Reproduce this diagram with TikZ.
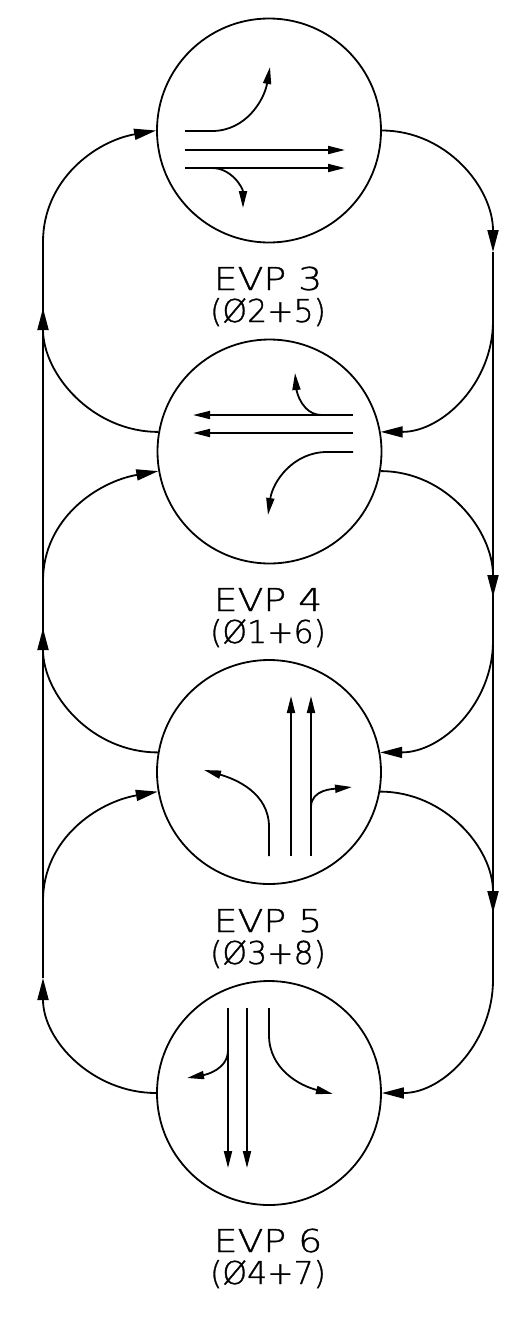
\documentclass[tikz,border=0pt]{standalone}
\usepackage{fontspec}
\newfontfamily\cadfont{DejaVu Sans ExtraLight}[FakeBold=1]
\usetikzlibrary{arrows.meta}
\tikzset{
  ring/.style={circle, draw, line width=1.8pt, minimum size=224pt, inner sep=0pt},
  conn/.style={line width=1.8pt, -{Triangle[length=22pt,width=11pt]}},
  plainline/.style={line width=1.8pt},
  lane/.style={line width=1.8pt, -{Triangle[length=17pt,width=8pt]}},
  lab/.style={font=\cadfont\fontsize{31.5}{31.5}\selectfont, inner sep=0pt, anchor=base},
}
\begin{document}
\begin{tikzpicture}[x=1pt,y=1pt]
\useasboundingbox (0,0) rectangle (522,-1331);
% circles
\node[ring] (c3) at (269,-130.5) {};
\node[ring] (c4) at (269.5,-451.5) {};
\node[ring] (c5) at (269,-772) {};
\node[ring] (c6) at (269,-1093) {};
% side coordinates
\coordinate (Li1) at (43,-242);
\coordinate (La) at (43,-308);
\coordinate (Li2) at (43,-581);
\coordinate (Lb) at (43,-628);
\coordinate (Li3) at (43,-901);
\coordinate (Lc) at (43,-978);
\coordinate (Ra) at (493,-252);
\coordinate (Ri2) at (493,-321);
\coordinate (Rb) at (493,-597);
\coordinate (Ri3) at (493,-641);
\coordinate (Rc) at (493,-913);
\coordinate (Ri4) at (493,-980);
% vertical lines
\draw[plainline] (Li1) -- (Lc);
\draw[plainline] (Ra) -- (Ri4);
% connectors
\draw[conn] (Li1) to[out=90,in=190] (c3.west);
\draw[conn] (c3.east) to[out=0,in=90] (Ra);
\draw[conn] (c4.170) to[out=180,in=-90] (La);
\draw[conn] (Ri2) to[out=-90,in=0] (c4.10);
\draw[conn] (Li2) to[out=90,in=190] (c4.190);
\draw[conn] (c4.-10) to[out=0,in=90] (Rb);
\draw[conn] (c5.170) to[out=180,in=-90] (Lb);
\draw[conn] (Ri3) to[out=-90,in=0] (c5.10);
\draw[conn] (Li3) to[out=90,in=190] (c5.190);
\draw[conn] (c5.-10) to[out=0,in=90] (Rc);
\draw[conn] (c6.west) to[out=180,in=-90] (Lc);
\draw[conn] (Ri4) to[out=-90,in=0] (c6.east);
% lanes EVP 3
\coordinate (a1) at (185,-131); \coordinate (a2) at (212,-131); \coordinate (a3) at (270,-67);
\draw[lane] (a1) -- (a2) to[out=0,in=-100] (a3);
\coordinate (a4) at (185,-150); \coordinate (a5) at (345,-150);
\draw[lane] (a4) -- (a5);
\coordinate (a6) at (185,-168); \coordinate (a7) at (345,-168);
\draw[lane] (a6) -- (a7);
\coordinate (a8) at (212,-168); \coordinate (a9) at (243,-208);
\draw[lane] (a8) to[out=0,in=90] (a9);
% lanes EVP 4
\coordinate (b1) at (353,-415); \coordinate (b2) at (193,-415);
\draw[lane] (b1) -- (b2);
\coordinate (b3) at (322,-415); \coordinate (b4) at (295,-373);
\draw[lane] (b3) to[out=180,in=-85] (b4);
\coordinate (b5) at (353,-433); \coordinate (b6) at (193,-433);
\draw[lane] (b5) -- (b6);
\coordinate (b7) at (353,-452); \coordinate (b8) at (327,-452); \coordinate (b9) at (268,-515);
\draw[lane] (b7) -- (b8) to[out=180,in=82] (b9);
% lanes EVP 5
\coordinate (d1) at (269,-856); \coordinate (d2) at (269,-827); \coordinate (d3) at (204,-770);
\draw[lane] (d1) -- (d2) to[out=90,in=-16] (d3);
\coordinate (d4) at (291,-856); \coordinate (d5) at (291,-696);
\draw[lane] (d4) -- (d5);
\coordinate (d6) at (311,-856); \coordinate (d7) at (311,-696);
\draw[lane] (d6) -- (d7);
\coordinate (d8) at (311,-807); \coordinate (d9) at (352,-787);
\draw[lane] (d8) to[out=90,in=186] (d9);
% lanes EVP 6
\coordinate (e1) at (228,-1008); \coordinate (e2) at (228,-1168);
\draw[lane] (e1) -- (e2);
\coordinate (e3) at (228,-1050); \coordinate (e4) at (187,-1078);
\draw[lane] (e3) to[out=-90,in=10] (e4);
\coordinate (e5) at (247,-1008); \coordinate (e6) at (247,-1168);
\draw[lane] (e5) -- (e6);
\coordinate (e7) at (269,-1008); \coordinate (e8) at (269,-1035); \coordinate (e9) at (333,-1094);
\draw[lane] (e7) -- (e8) to[out=-90,in=166] (e9);
% labels
\node[lab, xscale=1.2] (t3) at (268,-290) {EVP 3};
\node[lab] (p3) at (268,-322) {(Ø2+5)};
\node[lab, xscale=1.2] (t4) at (268,-611) {EVP 4};
\node[lab] (p4) at (268,-643) {(Ø1+6)};
\node[lab, xscale=1.2] (t5) at (268,-932) {EVP 5};
\node[lab] (p5) at (268,-964) {(Ø3+8)};
\node[lab, xscale=1.2] (t6) at (268,-1252) {EVP 6};
\node[lab] (p6) at (268,-1284) {(Ø4+7)};
\end{tikzpicture}
\end{document}
